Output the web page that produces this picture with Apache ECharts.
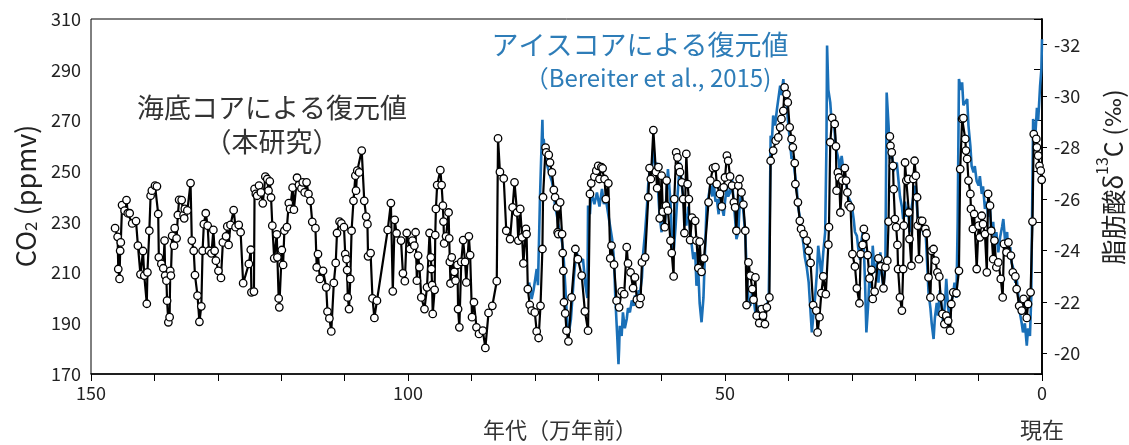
<!DOCTYPE html>
<html><head><meta charset="utf-8">
<script src="https://cdn.jsdelivr.net/npm/echarts@6/dist/echarts.min.js"></script>
<style>html,body{margin:0;padding:0;background:#fff}#c{width:1129px;height:445px}</style>
</head><body><div id="c"></div>
<script>
// 海底コア (本研究): 年代 (万年前) と CO2 (ppmv)
const coreAge = [
146.2,145.8,145.7,145.5,145.4,145.3,145.1,144.7,144.4,144.2,
143.9,143.5,142.9,142.6,142.2,141.8,141.6,141.2,141.1,140.8,
140.6,140.4,139.9,139.6,139.4,139.3,138.9,138.6,138.4,138.3,
138.1,138.0,137.8,137.6,137.5,137.4,137.2,136.9,136.8,136.5,
136.3,136.1,135.7,135.4,135.3,135.2,134.8,134.3,134.1,133.8,
133.6,133.2,132.9,132.6,132.4,132.2,131.9,131.6,131.4,131.0,
130.7,130.5,130.3,129.9,129.5,129.2,128.7,128.5,128.3,128.0,
127.5,127.2,126.7,126.4,126.0,125.1,124.8,124.7,124.3,124.2,
124.0,123.8,123.5,123.2,122.9,122.5,122.2,122.0,121.8,121.6,
121.4,121.1,120.7,120.6,120.4,120.3,119.9,119.7,119.5,119.1,
118.8,118.6,118.2,118.0,117.5,117.2,116.8,116.6,116.3,116.0,
115.7,115.4,115.1,114.6,114.4,114.2,113.9,113.4,112.9,112.7,
112.4,112.1,111.7,111.4,111.2,110.8,110.5,110.1,109.9,109.7,
109.6,109.5,109.3,109.1,108.9,108.6,108.3,108.2,108.0,107.7,
107.3,106.9,106.6,106.4,106.3,105.9,105.6,105.3,104.9,103.2,
102.7,102.4,102.1,101.8,101.1,100.8,100.5,100.2,99.7,99.3,
99.0,98.8,98.6,98.4,98.2,97.9,97.4,97.0,96.6,96.4,
96.3,96.2,96.1,95.8,95.7,95.6,95.4,94.9,94.7,94.5,
94.4,94.3,94.0,93.6,93.5,93.4,93.3,93.1,92.7,92.5,
92.2,92.1,91.9,91.6,91.3,91.0,90.8,90.4,90.2,89.9,
89.6,89.2,88.8,88.2,87.8,87.3,86.7,86.0,85.8,85.5,
84.9,84.5,83.9,83.5,83.2,82.8,82.6,82.3,82.0,81.8,
81.4,81.3,81.1,80.8,80.5,80.0,79.7,79.4,79.1,78.8,
78.7,78.3,78.2,77.8,77.6,77.3,77.0,76.8,76.5,76.4,
76.3,76.0,75.7,75.6,75.5,75.4,75.2,75.0,74.7,74.2,
73.6,73.2,72.6,72.1,71.6,71.3,71.1,70.6,70.3,70.0,
69.8,69.5,69.3,69.0,68.8,68.4,68.1,67.9,67.5,67.1,
66.7,66.3,65.9,65.5,65.3,64.9,64.5,64.2,63.9,63.5,
63.3,63.1,62.6,62.1,61.9,61.7,61.3,60.9,60.7,60.5,
60.3,60.0,59.8,59.5,59.3,59.2,59.0,58.6,58.4,58.1,
58.0,57.7,57.5,57.3,57.1,56.8,56.6,56.4,56.1,55.9,
55.7,55.5,55.2,54.7,54.5,54.2,54.0,53.7,53.3,52.6,
52.3,51.9,51.5,51.3,50.8,50.5,50.2,50.0,49.7,49.5,
49.2,48.9,48.6,48.4,48.2,47.9,47.7,47.4,47.1,46.8,
46.6,46.3,46.0,45.7,45.5,45.2,45.0,44.6,44.2,44.0,
43.7,43.4,43.0,42.8,42.4,42.0,41.6,41.3,41.1,40.8,
40.6,40.3,40.1,39.8,39.5,39.3,39.0,38.9,38.5,38.2,
38.0,37.6,37.1,36.8,36.5,36.1,35.6,35.4,35.1,34.8,
34.5,34.1,33.7,33.6,33.4,33.1,32.7,32.5,32.4,32.2,
32.0,31.8,31.5,31.1,30.9,30.7,30.5,30.2,29.9,29.5,
29.2,28.8,28.6,28.3,28.1,27.8,27.5,27.2,26.9,26.7,
26.4,25.8,25.4,25.0,24.7,24.4,24.2,24.0,23.9,23.7,
23.5,23.4,23.2,23.0,22.8,22.7,22.4,22.1,21.9,21.8,
21.6,21.4,21.1,21.0,20.9,20.6,20.3,20.1,19.9,19.7,
19.6,19.4,19.2,18.9,18.4,18.2,17.9,17.6,17.4,17.1,
16.8,16.5,16.2,16.0,15.7,15.4,15.1,14.8,14.5,14.3,
14.0,13.5,13.1,12.9,12.6,12.4,12.1,12.0,11.8,11.6,
11.3,11.2,10.9,10.7,10.3,10.0,9.8,9.5,9.3,9.0,
8.7,8.5,8.2,8.0,7.7,7.5,7.2,6.9,6.5,6.2,
6.0,5.6,5.3,4.9,4.6,4.2,4.0,3.6,3.2,2.9,
2.4,2.2,1.8,1.5,1.3,0.9,0.8,0.6,0.4,0.2,
0.05
];
const coreCO2 = [
227.5,224.1,211.4,207.5,218.6,221.9,236.6,234.4,238.6,233.4,
233.4,229.4,230.3,220.6,209.3,218.5,208.8,197.7,210.1,226.5,
240.3,242.3,244.3,244.0,233.1,216.0,213.4,211.7,222.6,208.8,
206.8,198.9,190.4,192.4,210.7,208.8,224.5,220.6,227.5,223.5,
232.7,238.7,238.6,232.7,231.4,235.1,234.5,245.3,222.6,218.6,
209.0,200.9,190.6,196.7,218.6,229.1,233.4,228.5,218.6,217.6,
226.8,218.6,214.7,210.7,207.9,221.9,224.3,228.2,220.9,228.8,
234.6,227.9,228.8,225.9,205.8,213.4,219.0,202.2,202.5,243.0,
241.0,240.3,244.3,241.6,237.3,247.8,246.9,242.3,246.0,239.6,
228.5,215.6,225.1,216.0,199.8,196.3,218.9,213.0,226.5,227.9,
237.4,235.1,243.5,234.8,247.4,244.5,243.2,245.6,241.6,245.6,
241.0,238.3,230.0,227.5,212.1,217.3,207.5,210.7,204.2,194.6,
191.9,186.8,205.9,213.8,225.6,230.1,229.4,227.9,217.3,215.3,
211.0,200.2,195.6,207.5,226.5,238.3,248.2,242.3,250.2,249.5,
258.1,238.3,232.1,229.1,216.4,217.7,199.8,192.1,198.9,226.8,
237.4,202.6,230.8,225.5,222.6,209.7,206.6,225.6,219.3,222.6,
220.6,225.9,206.8,216.7,212.1,200.2,195.6,204.2,225.6,216.0,
211.4,205.1,193.7,203.2,224.8,235.1,244.5,250.4,244.5,236.4,
230.1,221.5,224.3,233.7,223.5,214.2,205.7,216.0,210.3,206.8,
213.0,195.6,188.4,214.2,222.8,214.2,206.1,224.3,216.9,192.4,
198.3,188.4,185.8,187.1,180.3,194.1,196.9,206.6,262.9,249.7,
247.1,226.5,223.2,235.7,245.6,233.7,222.6,235.1,223.9,213.6,
227.2,225.2,203.5,197.3,195.0,194.3,186.8,184.2,196.9,219.3,
239.7,259.3,257.4,256.4,253.4,249.5,242.6,239.7,235.7,225.9,
225.2,237.7,225.2,217.7,210.7,198.3,193.9,187.1,182.9,200.2,
219.3,215.3,208.8,194.7,187.1,241.0,245.2,247.8,250.2,252.1,
246.9,251.6,251.1,246.9,239.0,245.2,215.6,220.6,213.1,198.9,
196.3,202.6,201.5,220.0,213.6,210.1,203.9,208.1,199.3,197.6,
200.0,214.0,216.0,239.7,251.2,246.9,266.2,249.7,243.3,251.6,
231.4,248.2,234.0,227.9,236.4,246.3,234.4,222.6,217.7,208.5,
239.0,257.4,255.4,251.6,249.6,245.6,239.0,225.6,256.8,244.9,
239.0,222.8,231.7,230.4,222.6,211.8,222.2,210.3,215.6,237.7,
246.3,251.2,251.6,244.9,241.0,236.1,243.6,247.5,256.1,254.1,
247.9,244.3,237.7,235.7,226.5,244.3,246.9,241.6,236.8,226.5,
197.2,214.0,208.8,203.5,199.3,208.1,193.0,190.1,195.6,193.0,
189.7,196.3,200.2,254.1,258.1,262.0,263.3,267.3,270.6,273.8,
283.0,280.4,277.1,267.3,262.7,259.4,253.2,244.9,237.7,230.4,
227.2,225.2,222.6,218.6,213.8,197.2,195.0,186.4,192.4,201.9,
208.5,201.5,221.0,227.9,261.4,271.0,268.6,259.8,242.3,249.5,
247.5,233.7,246.3,251.2,246.3,241.6,236.6,235.7,217.3,212.4,
203.8,197.9,217.3,220.9,227.2,224.1,216.9,207.7,211.1,199.6,
202.5,215.6,212.5,203.8,212.1,214.7,230.1,263.7,260.0,257.4,
252.1,242.9,231.1,227.9,220.9,211.4,200.2,195.0,211.4,228.5,
253.4,246.3,246.9,233.7,223.2,212.7,246.9,254.1,248.2,239.7,
228.5,215.3,230.4,230.4,227.2,225.5,208.1,200.2,218.6,219.3,
214.7,210.1,208.4,200.2,193.7,189.7,193.0,191.0,187.1,197.6,
202.2,201.9,210.7,250.8,270.6,270.9,262.7,258.1,254.8,246.3,
241.0,235.1,227.2,233.1,211.4,228.5,223.9,232.4,229.1,225.2,
210.1,241.0,236.4,226.5,215.3,222.6,212.1,214.0,207.5,200.2,
221.3,218.0,221.9,216.7,210.1,208.5,203.5,196.9,195.0,199.6,
192.1,197.6,202.2,230.1,264.6,262.7,259.4,256.1,252.1,250.2,
246.6
];
// アイスコア (Bereiter et al., 2015)
const iceAge = [
80.9,80.5,80.2,80.0,79.7,79.5,79.2,79.0,78.8,78.7,
78.6,78.3,77.9,77.6,77.3,77.0,76.8,76.5,76.3,76.0,
75.7,75.5,75.2,75.0,74.7,74.3,73.9,73.7,73.4,72.9,
72.4,72.0,71.7,71.6,71.3,71.1,70.6,70.2,69.8,69.4,
69.1,68.8,68.3,67.8,67.5,67.3,67.0,66.8,66.7,66.6,
66.3,66.1,65.8,65.5,65.3,65.0,64.7,64.4,64.2,63.9,
63.6,63.4,63.1,62.9,62.6,62.3,62.1,61.8,61.6,61.3,
61.0,60.8,60.5,60.3,60.0,59.8,59.5,59.2,59.0,58.6,
58.4,58.1,57.8,57.6,57.3,57.1,56.8,56.6,56.3,56.1,
55.8,55.5,55.3,55.0,54.7,54.5,54.2,54.0,53.7,53.4,
53.2,52.9,52.6,52.3,52.0,51.8,51.5,51.3,51.0,50.8,
50.5,50.2,50.0,49.7,49.5,49.2,48.9,48.7,48.4,48.2,
47.9,47.7,47.4,47.1,46.8,46.5,46.3,46.0,45.7,45.5,
45.2,45.0,44.7,44.4,44.2,43.9,43.7,43.4,43.1,43.0,
42.8,42.6,42.4,42.1,41.8,41.6,41.3,41.1,40.8,40.6,
40.3,40.1,39.8,39.5,39.3,39.0,38.7,38.5,38.2,38.0,
37.6,37.4,37.1,36.8,36.6,36.3,36.1,35.8,35.5,35.3,
35.0,34.8,34.5,34.2,34.0,33.9,33.7,33.4,33.2,32.9,
32.6,32.4,32.1,31.9,31.6,31.4,31.1,30.9,30.6,30.2,
30.0,29.7,29.5,29.2,29.0,28.7,28.5,28.2,27.9,27.7,
27.4,27.2,26.9,26.7,26.4,26.0,25.8,25.5,25.3,25.0,
24.7,24.5,24.2,24.0,23.7,23.4,23.2,22.9,22.7,22.4,
22.1,21.9,21.6,21.4,21.1,20.9,20.6,20.3,20.1,19.8,
19.6,19.3,19.0,18.7,18.4,18.2,17.9,17.6,17.4,17.1,
16.9,16.6,16.4,16.1,15.8,15.6,15.3,15.1,14.8,14.5,
14.3,14.0,13.8,13.5,13.3,13.1,12.8,12.6,12.4,11.8,
11.6,11.3,11.1,10.8,10.6,10.3,10.0,9.8,9.5,9.3,
9.0,8.7,8.5,8.2,8.0,7.7,7.5,7.2,6.9,6.6,
6.3,6.1,5.8,5.5,5.3,5.0,4.8,4.5,4.2,4.0,
3.7,3.5,3.2,3.0,2.7,2.4,2.2,1.9,1.7,1.4,
1.1,0.8,0.6,0.3,0.1,0.0
];
const iceCO2 = [
206.1,199.6,203.0,202.9,211.4,205.0,237.7,255.0,270.3,258.0,
262.7,254.8,251.0,248.2,246.0,241.6,236.0,232.4,229.0,225.9,
222.0,218.0,205.0,195.6,185.1,191.7,206.1,212.0,218.0,214.0,
215.3,204.8,200.0,236.4,233.0,241.6,237.0,241.6,236.0,243.0,
237.0,239.0,231.1,223.2,215.0,200.0,185.0,173.9,180.0,189.0,
185.0,194.3,188.0,191.7,196.0,194.3,199.0,196.9,201.0,198.3,
203.0,202.2,208.0,218.0,226.0,236.4,245.0,252.1,249.0,259.4,
252.0,253.4,240.0,232.0,225.9,236.4,228.0,242.0,250.8,238.0,
226.0,218.0,228.0,236.4,247.0,253.4,244.0,240.0,232.0,228.5,
236.0,226.0,222.0,215.3,218.0,204.8,210.0,198.0,190.4,200.0,
215.0,236.4,240.0,244.3,240.0,246.0,238.0,239.0,233.0,241.6,
236.0,232.4,238.0,244.3,240.0,241.6,246.9,240.0,231.1,223.2,
225.9,236.0,242.9,234.0,225.0,204.8,200.0,196.9,203.0,200.0,
194.0,191.7,197.0,192.0,196.0,191.7,195.0,197.0,200.0,218.0,
264.0,262.0,271.9,268.0,274.5,275.0,283.7,280.0,286.3,280.0,
278.0,270.6,263.0,254.8,256.0,249.5,244.0,236.4,232.0,228.0,
220.6,216.0,212.0,206.1,198.0,186.4,192.0,200.0,210.0,220.6,
214.0,208.0,218.0,226.0,260.0,299.5,282.0,277.1,270.0,271.9,
262.0,258.0,254.8,250.0,256.0,252.0,248.2,246.0,240.0,238.0,
236.4,231.0,226.0,224.5,220.0,215.0,222.0,227.2,205.0,186.4,
198.0,210.0,204.0,220.6,210.0,214.0,206.0,218.0,210.0,204.0,
215.0,281.0,268.0,254.8,258.0,250.0,252.0,253.4,254.0,240.0,
236.0,231.1,238.0,232.0,236.0,225.9,235.0,240.0,244.3,238.0,
232.0,228.5,230.0,225.0,228.0,218.0,202.2,196.0,190.0,183.8,
192.0,198.0,193.0,203.0,196.0,190.0,198.0,207.5,196.0,191.0,
198.0,202.0,206.0,200.0,230.0,286.3,282.0,285.0,276.0,278.4,
268.0,260.0,252.0,249.5,252.0,246.0,244.3,248.0,241.0,244.0,
235.1,238.0,232.0,236.0,225.9,230.0,222.0,226.0,218.0,224.0,
228.0,231.1,222.0,226.0,216.0,220.0,214.0,211.4,206.0,208.0,
200.0,194.3,190.0,186.4,190.0,181.2,188.0,185.0,200.0,270.6,
262.0,275.0,270.0,283.7,290.0,302.0
];
const ageTicks = [150, 100, 50, 0];
const co2Ticks = [170, 190, 210, 230, 250, 270, 290, 310];
const d13cTicks = [-20, -22, -24, -26, -28, -30, -32];

const zip = (a, b) => a.map((v, i) => [v, b[i]]);
const FONT = "'Noto Sans CJK JP', 'Noto Sans', sans-serif";

const chart = echarts.init(document.getElementById('c'), null, {renderer: 'canvas'});
chart.setOption({
  animation: false,
  backgroundColor: '#fff',
  grid: {left: 91, right: 87, top: 19, bottom: 71, show: true, borderColor: '#000', borderWidth: 1},
  xAxis: {
    type: 'value', min: 0, max: 150, interval: 10, inverse: true,
    axisLine: {lineStyle: {color: '#000', width: 1.5}},
    axisTick: {show: true, inside: false, length: 7, lineStyle: {color: '#000', width: 1}},
    axisLabel: {color: '#222', fontSize: 18, fontFamily: FONT, margin: 10,
      formatter: v => ageTicks.indexOf(v) >= 0 ? String(v) : ''},
    splitLine: {show: false}
  },
  yAxis: [{
    type: 'value', min: 170, max: 310, position: 'left',
    axisLine: {show: true, lineStyle: {color: '#000', width: 1.5}},
    axisTick: {show: true, inside: false, length: 8, customValues: co2Ticks, lineStyle: {color: '#000'}},
    axisLabel: {color: '#222', fontSize: 18, fontFamily: FONT, margin: 10, customValues: co2Ticks},
    splitLine: {show: false}
  }, {
    type: 'value', min: -33, max: -19.2, inverse: true, position: 'right',
    axisLine: {show: true, lineStyle: {color: '#000', width: 1.5}},
    axisTick: {show: true, inside: false, length: 5, customValues: d13cTicks, lineStyle: {color: '#000'}},
    axisLabel: {color: '#222', fontSize: 18, fontFamily: FONT, margin: 12, customValues: d13cTicks},
    splitLine: {show: false}
  }],
  series: [{
    name: 'ice', type: 'line', data: zip(iceAge, iceCO2), showSymbol: false, symbol: 'none',
    lineStyle: {color: '#1a70b8', width: 2.6}, z: 2
  }, {
    name: 'core', type: 'line', data: zip(coreAge, coreCO2), symbol: 'circle', symbolSize: 7.5,
    showAllSymbol: true,
    lineStyle: {color: '#000', width: 2.2},
    itemStyle: {color: '#fff', borderColor: '#000', borderWidth: 1.3}, z: 3
  }],
  graphic: [
    {type: 'text', x: 22, y: 196, rotation: Math.PI / 2,
     style: {text: '{a|CO}{s|2}{a| (ppmv)}', align: 'center', verticalAlign: 'middle', fill: '#222',
       rich: {a: {fontSize: 27, fontFamily: FONT, lineHeight: 34, verticalAlign: 'bottom', fill: '#222'},
              s: {fontSize: 17, fontFamily: FONT, lineHeight: 17, verticalAlign: 'bottom', fill: '#222'}}}},
    {type: 'text', x: 1110, y: 177, rotation: Math.PI / 2,
     style: {text: '{a|脂肪酸δ}{u|13}{a|C (}{p|‰}{a|)}', align: 'center', verticalAlign: 'middle', fill: '#222',
       rich: {a: {fontSize: 25, fontFamily: FONT, lineHeight: 32, verticalAlign: 'bottom', fill: '#222'},
              p: {fontSize: 22, fontFamily: "'DejaVu Sans', sans-serif", lineHeight: 30, verticalAlign: 'bottom', fill: '#222'},
              u: {fontSize: 16, fontFamily: FONT, lineHeight: 16, verticalAlign: 'top', fill: '#222'}}}},
    {type: 'text', x: 560, y: 430,
     style: {text: '年代（万年前）', fontSize: 22, fontFamily: FONT, fill: '#333', align: 'center', verticalAlign: 'middle'}},
    {type: 'text', x: 1042, y: 430,
     style: {text: '現在', fontSize: 22, fontFamily: FONT, fill: '#333', align: 'center', verticalAlign: 'middle'}},
    {type: 'text', x: 272, y: 108,
     style: {text: '海底コアによる復元値', fontSize: 27, fontFamily: FONT, fill: '#333', align: 'center', verticalAlign: 'middle'}},
    {type: 'text', x: 272, y: 142,
     style: {text: '（本研究）', fontSize: 27, fontFamily: FONT, fill: '#333', align: 'center', verticalAlign: 'middle'}},
    {type: 'text', x: 640, y: 45,
     style: {text: 'アイスコアによる復元値', fontSize: 27, fontFamily: FONT, fill: '#2e7db8', align: 'center', verticalAlign: 'middle'}},
    {type: 'text', x: 648, y: 78,
     style: {text: '（Bereiter et al., 2015)', fontSize: 24, fontFamily: FONT, fill: '#2e7db8', align: 'center', verticalAlign: 'middle'}}
  ]
});
</script>
</body></html>
